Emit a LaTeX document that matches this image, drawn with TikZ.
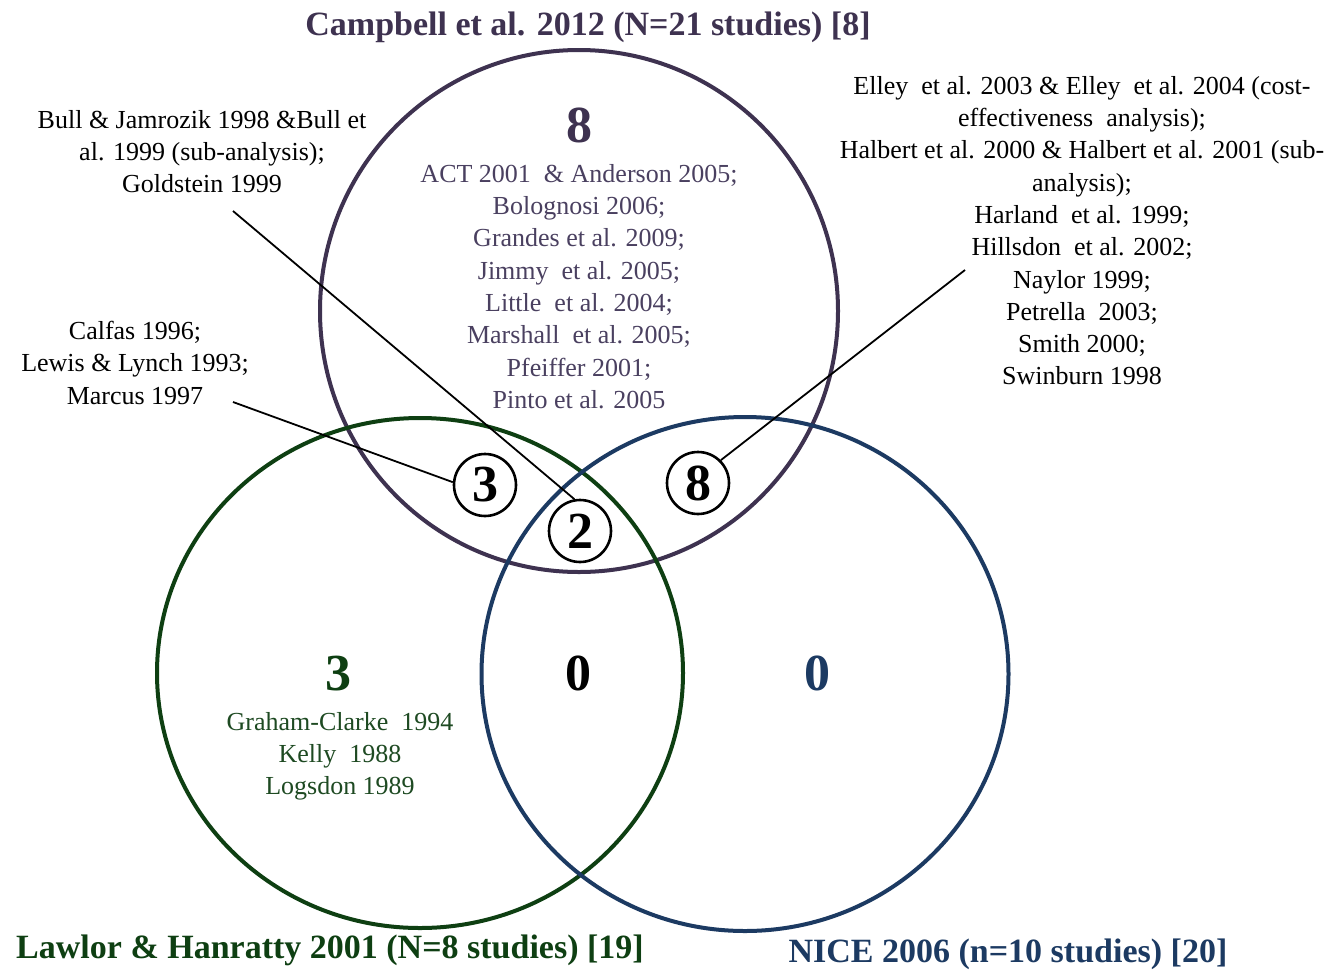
\documentclass[tikz,border=0pt]{standalone}
\usepackage{fontspec}
\setmainfont{Liberation Serif}
\usetikzlibrary{shapes.geometric}
\definecolor{cpurple}{HTML}{3E3250}
\definecolor{cgreen}{HTML}{0E3F12}
\definecolor{cblue}{HTML}{1C3A62}
\definecolor{tpurple}{HTML}{4A4060}
\definecolor{tgreen}{HTML}{1E4A22}
\begin{document}
\begin{tikzpicture}[x=1pt,y=-1pt,
  setshape/.style={ellipse, draw, line width=4pt, inner sep=0pt, outer sep=0pt},
  num/.style={circle, draw=black, line width=2.6pt, minimum size=62pt, inner sep=0pt, font=\fontsize{52}{52}\selectfont\bfseries},
  big/.style={font=\fontsize{52}{52}\selectfont\bfseries, anchor=base, inner sep=0pt},
  ttl/.style={font=\fontsize{34}{40}\selectfont\bfseries, anchor=base, inner sep=0pt},
  lst/.style={font=\fontsize{26}{32.3}\selectfont, align=center, inner sep=0pt, anchor=north},
  lead/.style={draw=black, line width=1.8pt}]
\fill[white] (0,0) rectangle (1339,975);
\useasboundingbox (0,0) rectangle (1339,975);
% sets
\node[setshape, draw=cpurple, minimum width=518pt, minimum height=522pt] (P) at (579,311) {};
\node[setshape, draw=cgreen, minimum width=526pt, minimum height=510pt] (G) at (420,673) {};
\node[setshape, draw=cblue, minimum width=527pt, minimum height=514pt] (B) at (745,674) {};
% titles
\node[ttl, text=cpurple] (tP) at (588,35) {Campbell et al. 2012 (N=21 studies) [8]};
\node[ttl, text=cgreen] (tG) at (330,958) {Lawlor \& Hanratty 2001 (N=8 studies) [19]};
\node[ttl, text=cblue] (tB) at (1008,962) {NICE 2006 (n=10 studies) [20]};
% purple only
\node[big, text=cpurple] (nP) at (579,142) {8};
\node[lst, text=tpurple] (lP) at (579,164) {ACT 2001\ \ \& Anderson 2005;\\ Bolognosi 2006;\\ Grandes et al. 2009;\\ Jimmy\ \ et al. 2005;\\ Little\ \ et al. 2004;\\ Marshall\ \ et al. 2005;\\ Pfeiffer 2001;\\ Pinto et al. 2005};
% green only
\node[big, text=cgreen] (nG) at (338,690) {3};
\node[lst, text=tgreen] (lG) at (340,712) {Graham-Clarke\ \ 1994\\ Kelly\ \ 1988\\ Logsdon 1989};
% green & blue
\node[big, text=black] (nGB) at (578,690) {0};
% blue only
\node[big, text=cblue] (nB) at (817,690) {0};
% outside texts
\node[lst] (lBull) at (202,110) {Bull \& Jamrozik 1998 \&Bull et\\ al. 1999 (sub-analysis);\\ Goldstein 1999};
\node[lst] (lCal) at (135,321) {Calfas 1996;\\ Lewis \& Lynch 1993;\\ Marcus 1997};
\node[lst] (lR) at (1082,76) {Elley\ \ et al. 2003 \& Elley\ \ et al. 2004 (cost-\\ effectiveness\ \ analysis);\\ Halbert et al. 2000 \& Halbert et al. 2001 (sub-\\ analysis);\\ Harland\ \ et al. 1999;\\ Hillsdon\ \ et al. 2002;\\ Naylor 1999;\\ Petrella\ \ 2003;\\ Smith 2000;\\ Swinburn 1998};
% number circles
\node[num] (c3) at (485,485) {3};
\node[num] (c2) at (580,531) {2};
\node[num] (c8) at (698,483) {8};
% leaders
\coordinate (bullEnd) at (233,211);
\coordinate (marEnd) at (233,402);
\coordinate (rEnd) at (965,270);
\draw[lead] (bullEnd) -- (c2.100);
\draw[lead] (marEnd) -- (c3.175);
\draw[lead] (rEnd) -- (c8.45);
\end{tikzpicture}
\end{document}
